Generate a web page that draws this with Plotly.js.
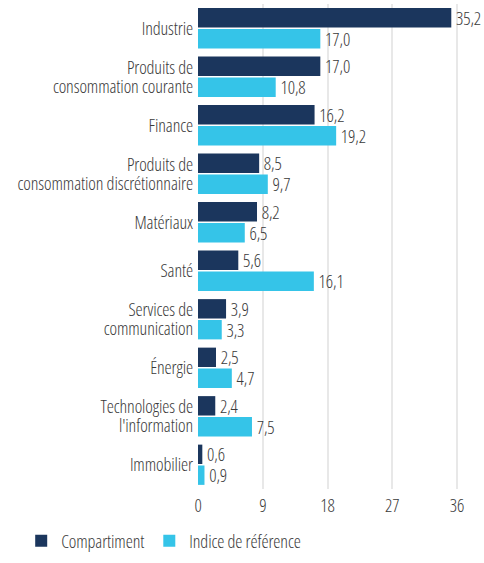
<!DOCTYPE html>
<html><head><meta charset="utf-8">
<script src="https://cdn.plot.ly/plotly-3.0.1.min.js"></script>
<style>html,body{margin:0;padding:0;background:#fff}
svg text{font-stretch:75% !important;letter-spacing:-0.1px;}</style>
</head><body><div id="chart" style="width:484px;height:563px"></div>
<script>
const categories = ["Industrie","Produits de<br>consommation courante","Finance","Produits de<br>consommation discrétionnaire","Matériaux","Santé","Services de<br>communication","Énergie","Technologies de<br>l'information","Immobilier"];
const compartiment = [35.2,17.0,16.2,8.5,8.2,5.6,3.9,2.5,2.4,0.6];
const indice = [17.0,10.8,19.2,9.7,6.5,16.1,3.3,4.7,7.5,0.9];
const seriesNames = ["Compartiment","Indice de référence"];
const tickVals = [0,9,18,27,36];

const FONT = "'Open Sans',sans-serif";
const F = (s) => ({family:FONT,size:s,color:'#3a3a3a',weight:300});
const mk = (vals, name, color) => ({
  type:'bar', orientation:'h', y:categories, x:vals, name:name,
  marker:{color:color}, texttemplate:'\u200A%{x:.1f}', textposition:'outside',
  constraintext:'none', cliponaxis:false, textfont:F(18), hoverinfo:'skip'
});
const data = [mk(compartiment,seriesNames[0],'#1b365d'), mk(indice,seriesNames[1],'#35c4e8')];
const layout = {
  width:484, height:563, separators:', ',
  margin:{l:198,r:14,t:4,b:71},
  font:F(18),
  barmode:'group', bargap:0.14, bargroupgap:0.07,
  xaxis:{range:[0,37.8], tickvals:tickVals, showgrid:true, gridcolor:'#e8e8e8', gridwidth:2, zeroline:false, showline:false, ticks:'', ticklabelstandoff:4, tickfont:F(18)},
  yaxis:{autorange:'reversed', showgrid:false, ticks:'', ticklen:0, ticklabelstandoff:4, tickfont:F(18), automargin:false},
  legend:{orientation:'h', x:-0.65, xanchor:'left', y:-0.1455, yanchor:'bottom', font:F(18), itemwidth:20, traceorder:'normal'},
  showlegend:true, plot_bgcolor:'#fff', paper_bgcolor:'#fff'
};
Plotly.newPlot('chart', data, layout, {displayModeBar:false, staticPlot:true}).then(() => {
  // tighten line spacing of two-line category labels
  document.querySelectorAll('.ytick text').forEach(t => {
    const lines = t.querySelectorAll('tspan.line');
    if (lines.length !== 2) return;
    const absolute = lines[1].hasAttribute('y');
    const d0 = parseFloat(lines[0].getAttribute('dy') || '0');
    const d1 = parseFloat(lines[1].getAttribute('dy') || '1.3');
    const shift = 0.12;
    lines[0].setAttribute('dy', (d0 + shift) + 'em');
    lines[1].setAttribute('dy', (absolute ? d1 - shift : d1 - 2 * shift) + 'em');
  });
});
</script></body></html>
